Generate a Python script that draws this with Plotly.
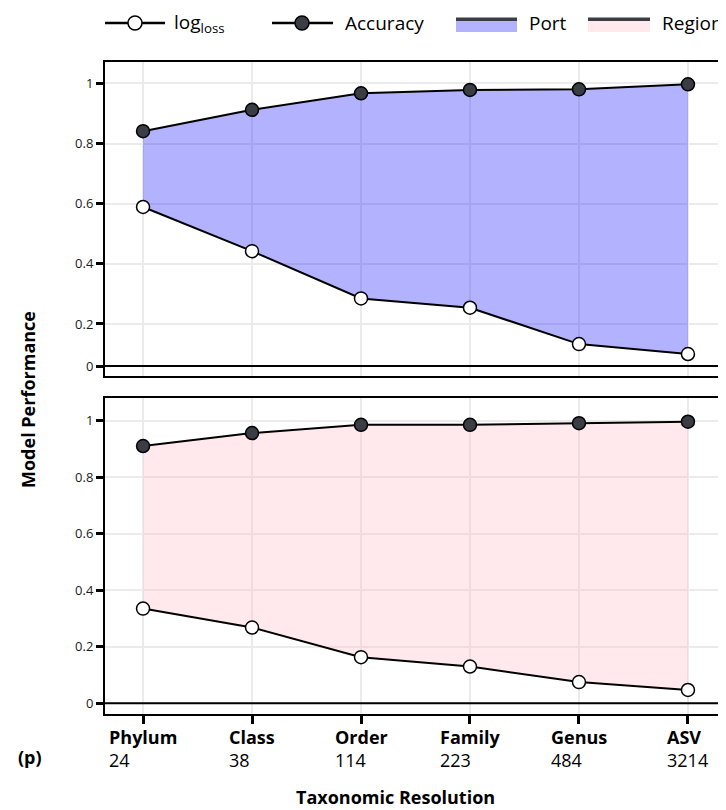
import plotly.graph_objects as go

# ---------------- data ----------------
categories = ["Phylum", "Class", "Order", "Family", "Genus", "ASV"]
n_features = [24, 38, 114, 223, 484, 3214]
port_accuracy = [0.841, 0.912, 0.967, 0.978, 0.980, 0.997]
port_logloss = [0.589, 0.442, 0.285, 0.254, 0.133, 0.100]
region_accuracy = [0.910, 0.956, 0.985, 0.985, 0.991, 0.996]
region_logloss = [0.335, 0.268, 0.163, 0.130, 0.075, 0.047]
ytick_labels = ["0", "0.2", "0.4", "0.6", "0.8", "1"]
top_tickvals = [0.06, 0.2, 0.4, 0.6, 0.8, 1.0]
bot_tickvals = [0.0, 0.2, 0.4, 0.6, 0.8, 1.0]

# ---------------- style ----------------
W, H = 726, 810
OFF = 8  # page body margin
ML, MR, MT, MB = 105 - OFF, OFF, 62 - OFF, H - (714 - OFF)
PW, PH = W - ML - MR, H - MT - MB
FONT = "'Open Sans', sans-serif"
PORT_FILL = "rgba(0,0,255,0.30)"
REGION_FILL = "rgba(255,182,193,0.30)"
DARK = "#3b3d45"
GRID = "#ebebeb"


def px(xs):
    """screen x -> paper x"""
    return (xs - OFF - ML) / PW


def py(ys):
    """screen y -> paper y"""
    return (H - MB - (ys - OFF)) / PH


top_dom = [py(376), py(62)]
bot_dom = [py(714), py(398)]

fig = go.Figure()

panels = [
    ("x", "y", port_accuracy, port_logloss, PORT_FILL),
    ("x2", "y2", region_accuracy, region_logloss, REGION_FILL),
]
for xa, ya, acc, ll, fillc in panels:
    fig.add_trace(go.Scatter(x=categories, y=ll, mode="lines", line=dict(width=0, color="rgba(0,0,0,0)"),
                             xaxis=xa, yaxis=ya, showlegend=False, hoverinfo="skip"))
    fig.add_trace(go.Scatter(x=categories, y=acc, mode="lines", line=dict(width=0, color="rgba(0,0,0,0)"),
                             fill="tonexty", fillcolor=fillc,
                             xaxis=xa, yaxis=ya, showlegend=False, hoverinfo="skip"))
    fig.add_trace(go.Scatter(x=categories, y=acc, mode="lines+markers",
                             line=dict(width=2, color="black"),
                             marker=dict(size=13, color=DARK, line=dict(width=1.5, color="black")),
                             xaxis=xa, yaxis=ya, showlegend=False))
    fig.add_trace(go.Scatter(x=categories, y=ll, mode="lines+markers",
                             line=dict(width=2, color="black"),
                             marker=dict(size=13, color="white", line=dict(width=1.5, color="black")),
                             xaxis=xa, yaxis=ya, showlegend=False))

xrange = [-0.349, 5.349]
common_x = dict(range=xrange, showgrid=True, gridcolor=GRID, gridwidth=2,
                showline=True, linecolor="black", linewidth=2, mirror=True,
                zeroline=False, fixedrange=True)
common_y = dict(showgrid=True, gridcolor=GRID, gridwidth=2, zeroline=False,
                showline=True, linecolor="black", linewidth=2, mirror=False,
                ticks="outside", ticklen=7, tickwidth=3, tickcolor="black",
                ticktext=ytick_labels, tickfont=dict(family=FONT, size=13, color="#1a1a1a"))

fig.update_layout(
    width=W, height=H,
    margin=dict(l=ML, r=MR, t=MT, b=MB),
    paper_bgcolor="white", plot_bgcolor="white",
    showlegend=False,
    xaxis=dict(common_x, anchor="y", showticklabels=False, ticks=""),
    yaxis=dict(common_y, domain=top_dom, anchor="x", range=[0.027, 1.071], tickvals=top_tickvals),
    xaxis2=dict(common_x, anchor="y2", showticklabels=False, ticks="outside",
                ticklen=8, tickwidth=3, tickcolor="black"),
    yaxis2=dict(common_y, domain=bot_dom, anchor="x2", range=[-0.038, 1.080], tickvals=bot_tickvals),
)

shapes = []
# zero lines
shapes.append(dict(type="line", xref="x domain", yref="y", x0=0, x1=1,
                   y0=top_tickvals[0], y1=top_tickvals[0], line=dict(color="black", width=2)))
shapes.append(dict(type="line", xref="x2 domain", yref="y2", x0=0, x1=1,
                   y0=bot_tickvals[0], y1=bot_tickvals[0], line=dict(color="black", width=2)))

annotations = []
# x category labels
for c, n in zip(categories, n_features):
    annotations.append(dict(x=c, xref="x2", y=py(723), yref="paper", yanchor="top",
                            xanchor="center", align="left", showarrow=False,
                            text=f"<b>{c}</b><br>{n}",
                            font=dict(family=FONT, size=18, color="black")))
annotations.append(dict(x=px(30), xref="paper", y=py(757), yref="paper", yanchor="middle",
                        xanchor="center", showarrow=False, text="<b>(p)</b>",
                        font=dict(family=FONT, size=18, color="black")))
annotations.append(dict(x=px(395), xref="paper", y=py(797), yref="paper", yanchor="middle",
                        xanchor="center", showarrow=False, text="<b>Taxonomic Resolution</b>",
                        font=dict(family=FONT, size=18, color="black")))
annotations.append(dict(x=px(28), xref="paper", y=py(400), yref="paper", yanchor="middle",
                        xanchor="center", showarrow=False, textangle=-90,
                        text="<b>Model Performance</b>",
                        font=dict(family=FONT, size=18, color="black")))

# legend (drawn manually)
LY = 23
r = 7
for x0, x1, cx, fillc, label, tx in [
    (105, 165, 135, "white", "log<sub>loss</sub>", 172),
    (272, 333, 302, DARK, "Accuracy", 343),
]:
    shapes.append(dict(type="line", xref="paper", yref="paper", x0=px(x0), x1=px(x1),
                       y0=py(LY), y1=py(LY), line=dict(color="black", width=2.5)))
    shapes.append(dict(type="circle", xref="paper", yref="paper", x0=px(cx - r), x1=px(cx + r),
                       y0=py(LY - r), y1=py(LY + r), fillcolor=fillc, line=dict(color="black", width=1.5)))
    annotations.append(dict(x=px(tx), xref="paper", y=py(LY), yref="paper", xanchor="left",
                            yanchor="middle", showarrow=False, text=label,
                            font=dict(family=FONT, size=19, color="black")))
for x0, x1, fillc, label, tx in [
    (456, 517, PORT_FILL, "Port", 527),
    (588, 650, REGION_FILL, "Region", 660),
]:
    shapes.append(dict(type="rect", xref="paper", yref="paper", x0=px(x0), x1=px(x1),
                       y0=py(LY + 9), y1=py(LY - 2), fillcolor=fillc, line=dict(width=0)))
    shapes.append(dict(type="rect", xref="paper", yref="paper", x0=px(x0), x1=px(x1),
                       y0=py(LY - 2), y1=py(LY - 5.5), fillcolor=DARK, line=dict(width=0)))
    annotations.append(dict(x=px(tx), xref="paper", y=py(LY), yref="paper", xanchor="left",
                            yanchor="middle", showarrow=False, text=label,
                            font=dict(family=FONT, size=19, color="black")))

fig.update_layout(shapes=shapes, annotations=annotations)
fig.write_html("out.html")
